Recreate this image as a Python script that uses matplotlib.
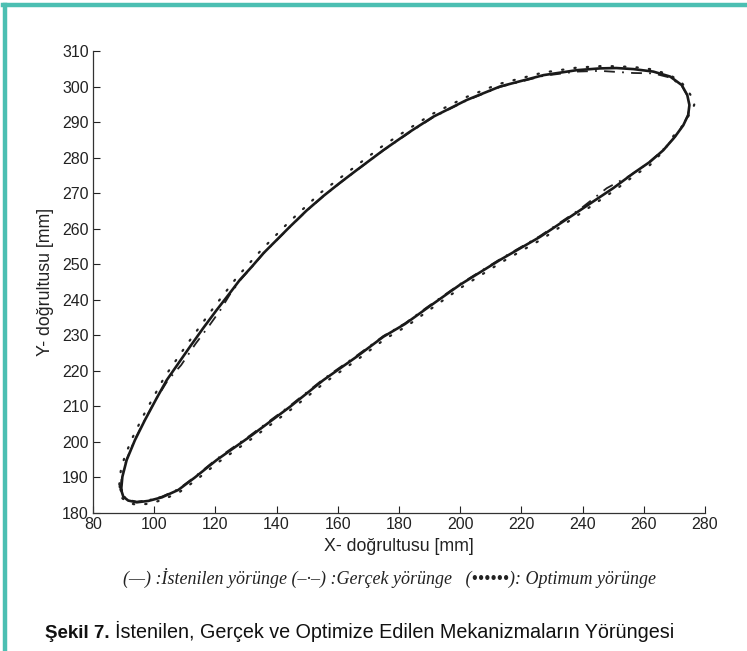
import matplotlib
matplotlib.use("Agg")
import matplotlib.pyplot as plt
from matplotlib.lines import Line2D

# desired trajectory (solid) [mm]
x_desired = [89.2, 89.6, 91.0, 93.7, 97.0, 100.8, 104.1, 107.9, 111.7, 116.0,
             120.4, 124.2, 128.0, 131.9, 135.7, 140.0, 144.4, 149.8, 155.3, 160.7,
             166.2, 174.9, 183.6, 191.2, 202.1, 213.0, 227.2, 238.1, 245.7, 251.0,
             256.6, 263.1, 268.6, 272.4, 274.2, 274.9, 274.5, 272.9, 270.2, 266.4,
             262.0, 256.6, 250.0, 239.2, 226.1, 213.0, 199.9, 189.1, 182.0, 174.9,
             166.2, 155.3, 144.4, 131.3, 120.4, 113.3, 107.9, 102.5, 98.1, 94.3,
             91.5, 89.9, 89.2]
y_desired = [186.5, 190.2, 194.9, 200.5, 206.2, 212.3, 217.4, 222.1, 226.8, 232.0,
             237.1, 241.3, 245.6, 249.3, 253.1, 256.8, 260.6, 265.1, 269.2, 272.9,
             276.5, 282.1, 287.3, 291.5, 296.2, 300.0, 303.2, 304.6, 305.1, 305.2,
             304.9, 304.2, 302.8, 300.4, 297.6, 294.8, 292.0, 289.1, 285.9, 282.1,
             278.8, 275.6, 271.4, 265.2, 257.7, 251.2, 244.2, 237.6, 233.2, 229.6,
             224.0, 217.4, 209.9, 201.5, 194.9, 190.0, 186.5, 184.4, 183.4, 183.0,
             183.5, 184.6, 186.5]

# actual mechanism (dash-dot)
x_actual = [89.0, 89.4, 90.9, 93.6, 96.9, 100.6, 104.5, 108.8, 113.5, 117.8,
            121.7, 124.6, 128.2, 132.0, 135.8, 140.1, 144.5, 149.9, 155.4, 160.8,
            166.3, 175.0, 183.7, 191.3, 202.2, 213.1, 227.2, 238.1, 245.7, 256.6,
            263.1, 268.6, 272.4, 274.2, 274.9, 274.5, 272.6, 269.6, 265.3, 261.0,
            255.6, 247.9, 239.0, 226.0, 213.0, 199.9, 189.0, 182.0, 174.9, 166.2,
            155.3, 144.4, 131.3, 120.4, 113.3, 107.9, 102.5, 98.1, 94.3, 91.5,
            89.9, 89.0]
y_actual = [186.5, 190.2, 194.9, 200.5, 206.2, 212.0, 217.4, 221.6, 227.6, 232.5,
            237.2, 241.3, 245.6, 249.3, 253.1, 256.8, 260.6, 265.1, 269.2, 272.9,
            276.5, 282.1, 287.2, 291.4, 296.1, 299.9, 303.0, 304.2, 304.4, 303.8,
            303.7, 302.5, 300.2, 297.5, 294.7, 292.0, 288.8, 285.2, 281.4, 278.2,
            275.0, 271.4, 265.4, 257.9, 251.4, 244.4, 237.8, 233.4, 229.8, 224.3,
            217.7, 210.2, 201.8, 195.2, 190.2, 186.7, 184.6, 183.6, 183.2, 183.7,
            184.8, 186.5]

# optimised mechanism (dotted)
x_optimum = [88.6, 89.1, 90.4, 92.8, 96.2, 100.0, 103.4, 111.0, 119.6, 127.2,
             135.0, 143.6, 154.5, 165.4, 174.2, 183.0, 190.7, 201.6, 212.6, 226.9,
             238.0, 247.0, 256.6, 263.0, 268.0, 271.9, 274.5, 276.7, 276.0, 274.9,
             273.0, 269.6, 266.6, 262.0, 257.0, 250.5, 239.8, 226.8, 213.6, 200.6,
             189.7, 182.6, 175.5, 166.8, 155.9, 145.0, 131.9, 121.0, 113.9, 108.3,
             102.8, 98.2, 94.3, 91.2, 89.4, 88.6]
y_optimum = [188.0, 192.0, 196.0, 201.0, 207.0, 213.0, 218.3, 227.8, 238.0, 246.5,
             254.0, 261.5, 270.2, 277.3, 283.0, 288.0, 292.2, 296.9, 300.7, 303.9,
             305.3, 305.8, 305.5, 304.8, 303.4, 301.6, 298.7, 295.6, 293.5, 292.2,
             289.3, 286.0, 282.0, 277.9, 275.0, 270.8, 264.6, 257.1, 250.6, 243.6,
             237.0, 232.6, 229.0, 223.4, 216.8, 209.3, 200.9, 194.3, 189.4, 185.9,
             183.7, 182.6, 182.3, 182.9, 184.3, 188.0]

x_ticks = [80, 100, 120, 140, 160, 180, 200, 220, 240, 260, 280]
y_ticks = [180, 190, 200, 210, 220, 230, 240, 250, 260, 270, 280, 290, 300, 310]

plt.rcParams["font.family"] = ["Liberation Sans", "DejaVu Sans"]

fig = plt.figure(figsize=(7.47, 6.51), dpi=100)
ax = fig.add_axes([0.1245, 0.212, 0.8193, 0.7097])

ax.plot(x_optimum, y_optimum, color="#222222", lw=1.6, linestyle=(0, (0.6, 5)),
        dash_capstyle="round")
ax.plot(x_actual, y_actual, color="#222222", lw=1.3, linestyle=(0, (6, 4, 1, 4)))
ax.plot(x_desired, y_desired, color="#1a1a1a", lw=1.9)

ax.set_xlim(80, 280)
ax.set_ylim(180, 310)
ax.set_xticks(x_ticks)
ax.set_yticks(y_ticks)
ax.tick_params(direction="in", length=5, width=0.8, labelsize=11.5, colors="#222222",
               pad=3)
for side in ["top", "right"]:
    ax.spines[side].set_visible(False)
for side in ["left", "bottom"]:
    ax.spines[side].set_linewidth(0.9)
    ax.spines[side].set_color("#333333")

ax.set_xlabel("X- doğrultusu [mm]", fontsize=12.8, color="#222222", labelpad=4)
ax.set_ylabel("Y- doğrultusu [mm]", fontsize=12.8, color="#222222", labelpad=6)

fig.text(0.522, 1 - 578 / 651,
         "(—) :İstenilen yörünge (–·–) :Gerçek yörünge   (••••••): Optimum yörünge",
         ha="center", va="center", fontsize=13, style="italic",
         family=["Liberation Serif", "DejaVu Serif"], color="#222222")

# caption: bold figure number followed by plain title, sharing one baseline
cap_y = 1 - 638 / 651
bold = fig.text(45 / 747, cap_y, "Şekil 7.", ha="left", va="baseline",
                fontsize=13.5, weight="bold", color="#111111")
rest = fig.text(113 / 747, cap_y, "İstenilen, Gerçek ve Optimize Edilen Mekanizmaların Yörüngesi",
                ha="left", va="baseline", fontsize=14.2, color="#111111")
renderer = fig.canvas.get_renderer()
bb = bold.get_window_extent(renderer)
rest.set_x((bb.x1 + 5) / 747)

# teal frame on the left and top
fig.add_artist(Line2D([4.5 / 747, 4.5 / 747], [0, 1 - 4.5 / 651], color="#4cbfb2",
                      lw=3.2, transform=fig.transFigure))
fig.add_artist(Line2D([3 / 747, 1], [1 - 4.5 / 651, 1 - 4.5 / 651], color="#4cbfb2",
                      lw=3.2, transform=fig.transFigure))

fig.savefig("out.png", dpi=100)
